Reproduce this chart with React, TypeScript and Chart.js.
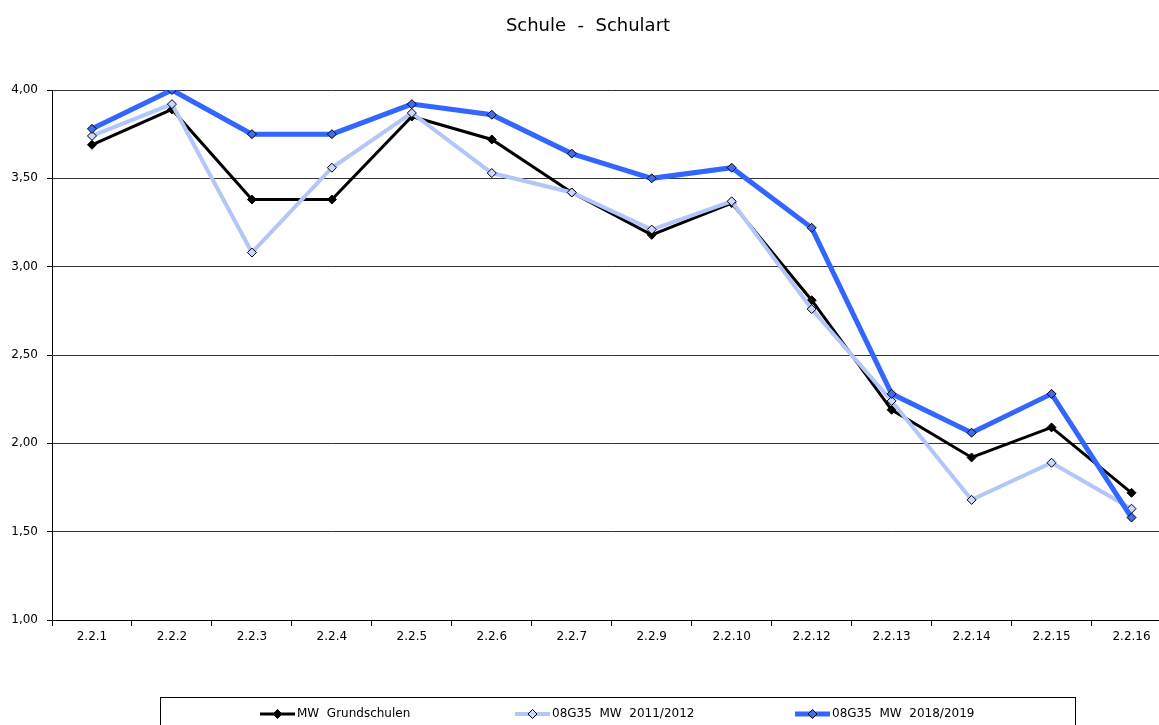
import React, { useEffect, useRef } from "react";
import { Chart, registerables } from "chart.js";

Chart.register(...registerables);

const categories = ["2.2.1", "2.2.2", "2.2.3", "2.2.4", "2.2.5", "2.2.6", "2.2.7", "2.2.9", "2.2.10", "2.2.12", "2.2.13", "2.2.14", "2.2.15", "2.2.16"];
const mwGrundschulen = [3.69, 3.89, 3.38, 3.38, 3.85, 3.72, 3.42, 3.18, 3.36, 2.81, 2.19, 1.92, 2.09, 1.72];
const mw20112012 = [3.74, 3.92, 3.08, 3.56, 3.87, 3.53, 3.42, 3.21, 3.37, 2.76, 2.24, 1.68, 1.89, 1.63];
const mw20182019 = [3.78, 4.0, 3.75, 3.75, 3.92, 3.86, 3.64, 3.5, 3.56, 3.22, 2.28, 2.06, 2.28, 1.58];
const seriesLabels = ["MW  Grundschulen", "08G35  MW  2011/2012", "08G35  MW  2018/2019"];
const titleText = "Schule  -  Schulart";

const FONT = "'DejaVu Sans', sans-serif";

const styles = [
  { line: "#000000", width: 3, fill: "#000000" },
  { line: "#B3C6FA", width: 4, fill: "#CAD7FF" },
  { line: "#3366FF", width: 5, fill: "#3F6CF0" },
];

const decorPlugin = {
  id: "decor",
  afterDraw(chart: any) {
    const ctx = chart.ctx as CanvasRenderingContext2D;
    ctx.save();
    // title
    ctx.fillStyle = "#000";
    ctx.font = `18px ${FONT}`;
    ctx.textAlign = "center";
    ctx.textBaseline = "middle";
    ctx.fillText(titleText, 588, 26);
    // legend box
    ctx.strokeStyle = "#000";
    ctx.lineWidth = 1;
    ctx.strokeRect(160.5, 697.5, 915, 50);
    const xs = [260, 515, 795];
    const y = 714;
    ctx.font = `12px ${FONT}`;
    ctx.textAlign = "left";
    xs.forEach((x0, i) => {
      const s = styles[i];
      ctx.strokeStyle = s.line;
      ctx.lineWidth = s.width;
      ctx.beginPath();
      ctx.moveTo(x0, y);
      ctx.lineTo(x0 + 35, y);
      ctx.stroke();
      const cx = x0 + 17.5;
      ctx.beginPath();
      ctx.moveTo(cx, y - 4.5);
      ctx.lineTo(cx + 4.5, y);
      ctx.lineTo(cx, y + 4.5);
      ctx.lineTo(cx - 4.5, y);
      ctx.closePath();
      ctx.fillStyle = s.fill;
      ctx.fill();
      ctx.strokeStyle = "#000";
      ctx.lineWidth = 1;
      ctx.stroke();
      ctx.fillStyle = "#000";
      ctx.fillText(seriesLabels[i], x0 + 37, y);
    });
    ctx.restore();
  },
};

export default function App() {
  const ref = useRef<HTMLCanvasElement>(null);
  useEffect(() => {
    if (!ref.current) return;
    const values = [mwGrundschulen, mw20112012, mw20182019];
    const chart = new Chart(ref.current, {
      type: "line",
      data: {
        labels: categories,
        datasets: values.map((v, i) => ({
          label: seriesLabels[i],
          data: v,
          borderColor: styles[i].line,
          borderWidth: styles[i].width,
          backgroundColor: styles[i].fill,
          pointStyle: "rectRot",
          pointRadius: 4.5,
          pointBorderColor: "#000",
          pointBorderWidth: 1,
          pointBackgroundColor: styles[i].fill,
          tension: 0,
          order: 2 - i,
        })),
      },
      options: {
        animation: false,
        responsive: false,
        layout: { padding: { left: 0, right: 0, top: 90, bottom: 75 } },
        plugins: {
          legend: { display: false },
          title: { display: false },
          tooltip: { enabled: false },
        },
        scales: {
          x: {
            offset: true,
            grid: { display: true, offset: true, drawOnChartArea: false, drawTicks: true, tickLength: 6, color: "#000" },
            border: { color: "#000", width: 1 },
            ticks: { color: "#000", font: { family: FONT, size: 12 }, padding: 4, maxRotation: 0, autoSkip: false },
            afterFit: (s: any) => {
              s.height = 30;
            },
          },
          y: {
            min: 1,
            max: 4,
            grid: { color: "#333", lineWidth: 1, drawTicks: true, tickLength: 5, tickColor: "#000" },
            border: { color: "#000", width: 1 },
            ticks: {
              stepSize: 0.5,
              color: "#000",
              font: { family: FONT, size: 12 },
              padding: 9,
              callback: (v: any) => Number(v).toFixed(2).replace(".", ","),
            },
            afterFit: (s: any) => {
              s.width = 52;
            },
          },
        },
      },
      plugins: [decorPlugin],
    });
    return () => chart.destroy();
  }, []);
  return (
    <div style={{ position: "absolute", left: 0, top: 0, width: 1159, height: 725, overflow: "hidden", background: "#fff" }}>
      <canvas ref={ref} width={1177} height={725} style={{ display: "block" }} />
    </div>
  );
}
